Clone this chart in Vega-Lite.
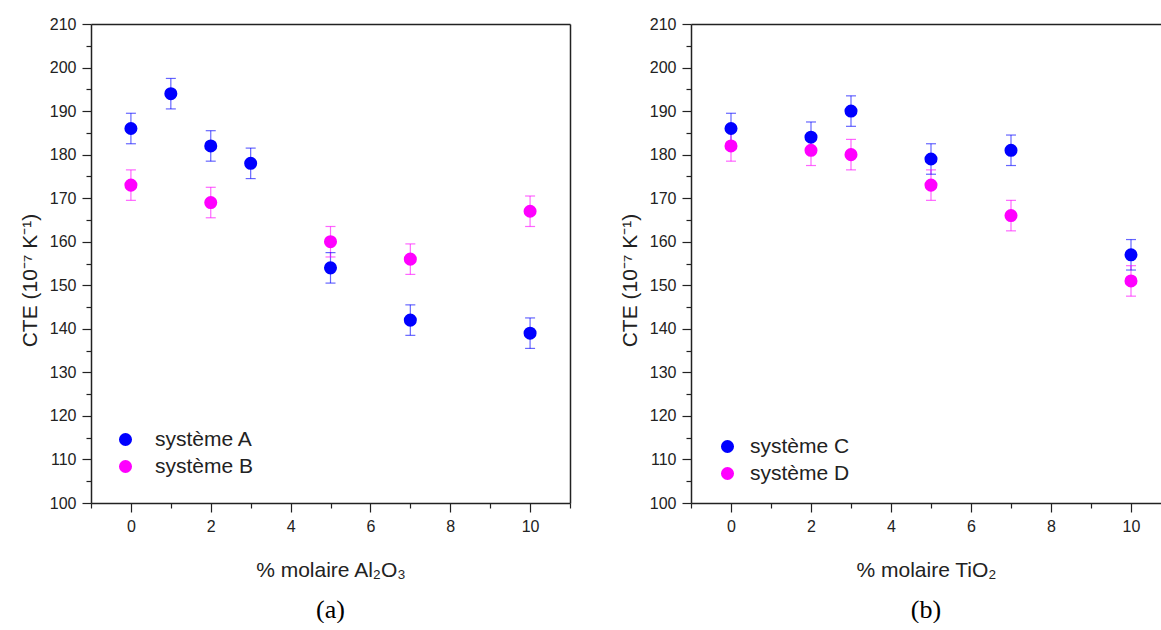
{
  "$schema": "https://vega.github.io/schema/vega-lite/v6.json",
  "padding": {"left": 19, "top": 16, "right": 0, "bottom": 0},
  "background": "white",
  "config": {
    "font": "Liberation Sans",
    "view": {"stroke": null},
    "axis": {
      "domainColor": "#222222", "domainWidth": 1.5, "tickColor": "#222222", "tickWidth": 1.2,
      "labelFont": "Liberation Sans", "labelFontSize": 16, "labelColor": "#222222",
      "titleFont": "Liberation Sans", "titleFontSize": 21, "titleFontWeight": "normal", "titleColor": "#222222",
      "grid": false
    },
    "legend": {"labelFont": "Liberation Sans", "labelFontSize": 21, "labelColor": "#222222"}
  },
  "datasets": {
    "a": [
      {"x": 0, "v": 186, "lo": 182.5, "hi": 189.5, "s": "système A"},
      {"x": 1, "v": 194, "lo": 190.5, "hi": 197.5, "s": "système A"},
      {"x": 2, "v": 182, "lo": 178.5, "hi": 185.5, "s": "système A"},
      {"x": 3, "v": 178, "lo": 174.5, "hi": 181.5, "s": "système A"},
      {"x": 5, "v": 154, "lo": 150.5, "hi": 157.5, "s": "système A"},
      {"x": 7, "v": 142, "lo": 138.5, "hi": 145.5, "s": "système A"},
      {"x": 10, "v": 139, "lo": 135.5, "hi": 142.5, "s": "système A"},
      {"x": 0, "v": 173, "lo": 169.5, "hi": 176.5, "s": "système B"},
      {"x": 2, "v": 169, "lo": 165.5, "hi": 172.5, "s": "système B"},
      {"x": 5, "v": 160, "lo": 156.5, "hi": 163.5, "s": "système B"},
      {"x": 7, "v": 156, "lo": 152.5, "hi": 159.5, "s": "système B"},
      {"x": 10, "v": 167, "lo": 163.5, "hi": 170.5, "s": "système B"}
    ],
    "b": [
      {"x": 0, "v": 186, "lo": 182.5, "hi": 189.5, "s": "système C"},
      {"x": 2, "v": 184, "lo": 180.5, "hi": 187.5, "s": "système C"},
      {"x": 3, "v": 190, "lo": 186.5, "hi": 193.5, "s": "système C"},
      {"x": 5, "v": 179, "lo": 175.5, "hi": 182.5, "s": "système C"},
      {"x": 7, "v": 181, "lo": 177.5, "hi": 184.5, "s": "système C"},
      {"x": 10, "v": 157, "lo": 153.5, "hi": 160.5, "s": "système C"},
      {"x": 0, "v": 182, "lo": 178.5, "hi": 185.5, "s": "système D"},
      {"x": 2, "v": 181, "lo": 177.5, "hi": 184.5, "s": "système D"},
      {"x": 3, "v": 180, "lo": 176.5, "hi": 183.5, "s": "système D"},
      {"x": 5, "v": 173, "lo": 169.5, "hi": 176.5, "s": "système D"},
      {"x": 7, "v": 166, "lo": 162.5, "hi": 169.5, "s": "système D"},
      {"x": 10, "v": 151, "lo": 147.5, "hi": 154.5, "s": "système D"}
    ]
  },
  "hconcat": [
    {
      "width": 479, "height": 479,
      "data": {"name": "a"},
      "title": {"text": "(a)", "orient": "bottom", "font": "Liberation Serif", "fontSize": 26, "fontWeight": "normal", "color": "#000000", "offset": 17},
      "layer": [
        {
          "mark": {"type": "rule", "strokeWidth": 1.2, "strokeOpacity": 0.6},
          "encoding": {
            "x": {"field": "x", "type": "quantitative", "scale": {"domain": [-1, 11], "nice": false, "zero": false},
              "axis": {"orient": "bottom", "title": "% molaire Al₂O₃", "values": [-1,0,1,2,3,4,5,6,7,8,9,10,11],
                "labelExpr": "datum.value % 2 === 0 ? datum.label : ''",
                "tickSize": {"condition": {"test": "datum.value % 2 === 0", "value": 9}, "value": 5},
                "labelPadding": 6, "titlePadding": 25}},
            "y": {"field": "lo", "type": "quantitative", "scale": {"domain": [100, 210], "nice": false, "zero": false},
              "axis": {"orient": "left", "title": "CTE (10⁻⁷ K⁻¹)", "titleY": 256, "values": [100,105,110,115,120,125,130,135,140,145,150,155,160,165,170,175,180,185,190,195,200,205,210],
                "labelExpr": "datum.value % 10 === 0 ? datum.label : ''",
                "tickSize": {"condition": {"test": "datum.value % 10 === 0", "value": 9}, "value": 5},
                "labelPadding": 6, "titlePadding": 9}},
            "y2": {"field": "hi"},
            "color": {"field": "s", "type": "nominal", "scale": {"domain": ["système A", "système B"], "range": ["#0000ff", "#ff00ff"]},
              "legend": {"title": null, "orient": "none", "legendX": 24, "legendY": 405, "padding": 0,
                "symbolType": "circle", "symbolSize": 170, "symbolStrokeWidth": 0, "symbolOpacity": 1,
                "labelOffset": 19, "rowPadding": 5,
                "encode": {"symbols": {"update": {"opacity": {"value": 1}, "fillOpacity": {"value": 1}}}}}}
          }
        },
        {
          "mark": {"type": "tick", "orient": "horizontal", "size": 10, "thickness": 1.2, "opacity": 0.6},
          "encoding": {
            "x": {"field": "x", "type": "quantitative", "axis": null},
            "y": {"field": "lo", "type": "quantitative", "axis": null},
            "color": {"field": "s", "type": "nominal"}
          }
        },
        {
          "mark": {"type": "tick", "orient": "horizontal", "size": 10, "thickness": 1.2, "opacity": 0.6},
          "encoding": {
            "x": {"field": "x", "type": "quantitative", "axis": null},
            "y": {"field": "hi", "type": "quantitative", "axis": null},
            "color": {"field": "s", "type": "nominal"}
          }
        },
        {
          "mark": {"type": "circle", "size": 170, "opacity": 1},
          "encoding": {
            "x": {"field": "x", "type": "quantitative", "axis": null},
            "y": {"field": "v", "type": "quantitative", "axis": null},
            "color": {"field": "s", "type": "nominal"}
          }
        },
        {
          "mark": {"type": "circle", "opacity": 0},
          "encoding": {
            "x": {"field": "x", "type": "quantitative", "axis": {"orient": "top", "title": null, "labels": false, "ticks": false, "domain": true}},
            "y": {"field": "v", "type": "quantitative", "axis": {"orient": "right", "title": null, "labels": false, "ticks": false, "domain": true}}
          }
        }
      ],
      "resolve": {"axis": {"x": "independent", "y": "independent"}}
    },
    {
      "width": 470, "height": 479,
      "data": {"name": "b"},
      "title": {"text": "(b)", "orient": "bottom", "font": "Liberation Serif", "fontSize": 26, "fontWeight": "normal", "color": "#000000", "offset": 17},
      "layer": [
        {
          "mark": {"type": "rule", "strokeWidth": 1.2, "strokeOpacity": 0.6},
          "encoding": {
            "x": {"field": "x", "type": "quantitative", "scale": {"domain": [-1, 10.75], "nice": false, "zero": false},
              "axis": {"orient": "bottom", "title": "% molaire TiO₂", "values": [-1,0,1,2,3,4,5,6,7,8,9,10],
                "labelExpr": "datum.value % 2 === 0 ? datum.label : ''",
                "tickSize": {"condition": {"test": "datum.value % 2 === 0", "value": 9}, "value": 5},
                "labelPadding": 6, "titlePadding": 25}},
            "y": {"field": "lo", "type": "quantitative", "scale": {"domain": [100, 210], "nice": false, "zero": false},
              "axis": {"orient": "left", "title": "CTE (10⁻⁷ K⁻¹)", "titleY": 256, "values": [100,105,110,115,120,125,130,135,140,145,150,155,160,165,170,175,180,185,190,195,200,205,210],
                "labelExpr": "datum.value % 10 === 0 ? datum.label : ''",
                "tickSize": {"condition": {"test": "datum.value % 10 === 0", "value": 9}, "value": 5},
                "labelPadding": 6, "titlePadding": 9}},
            "y2": {"field": "hi"},
            "color": {"field": "s", "type": "nominal", "scale": {"domain": ["système C", "système D"], "range": ["#0000ff", "#ff00ff"]},
              "legend": {"title": null, "orient": "none", "legendX": 26, "legendY": 412, "padding": 0,
                "symbolType": "circle", "symbolSize": 170, "symbolStrokeWidth": 0, "symbolOpacity": 1,
                "labelOffset": 12, "rowPadding": 5,
                "encode": {"symbols": {"update": {"opacity": {"value": 1}, "fillOpacity": {"value": 1}}}}}}
          }
        },
        {
          "mark": {"type": "tick", "orient": "horizontal", "size": 10, "thickness": 1.2, "opacity": 0.6},
          "encoding": {
            "x": {"field": "x", "type": "quantitative", "axis": null},
            "y": {"field": "lo", "type": "quantitative", "axis": null},
            "color": {"field": "s", "type": "nominal"}
          }
        },
        {
          "mark": {"type": "tick", "orient": "horizontal", "size": 10, "thickness": 1.2, "opacity": 0.6},
          "encoding": {
            "x": {"field": "x", "type": "quantitative", "axis": null},
            "y": {"field": "hi", "type": "quantitative", "axis": null},
            "color": {"field": "s", "type": "nominal"}
          }
        },
        {
          "mark": {"type": "circle", "size": 170, "opacity": 1},
          "encoding": {
            "x": {"field": "x", "type": "quantitative", "axis": null},
            "y": {"field": "v", "type": "quantitative", "axis": null},
            "color": {"field": "s", "type": "nominal"}
          }
        },
        {
          "mark": {"type": "circle", "opacity": 0},
          "encoding": {
            "x": {"field": "x", "type": "quantitative", "axis": {"orient": "top", "title": null, "labels": false, "ticks": false, "domain": true}}
          }
        }
      ],
      "resolve": {"axis": {"x": "independent", "y": "independent"}}
    }
  ],
  "spacing": 48,
  "resolve": {"scale": {"color": "independent", "x": "independent", "y": "independent"}, "legend": {"color": "independent"}}
}
